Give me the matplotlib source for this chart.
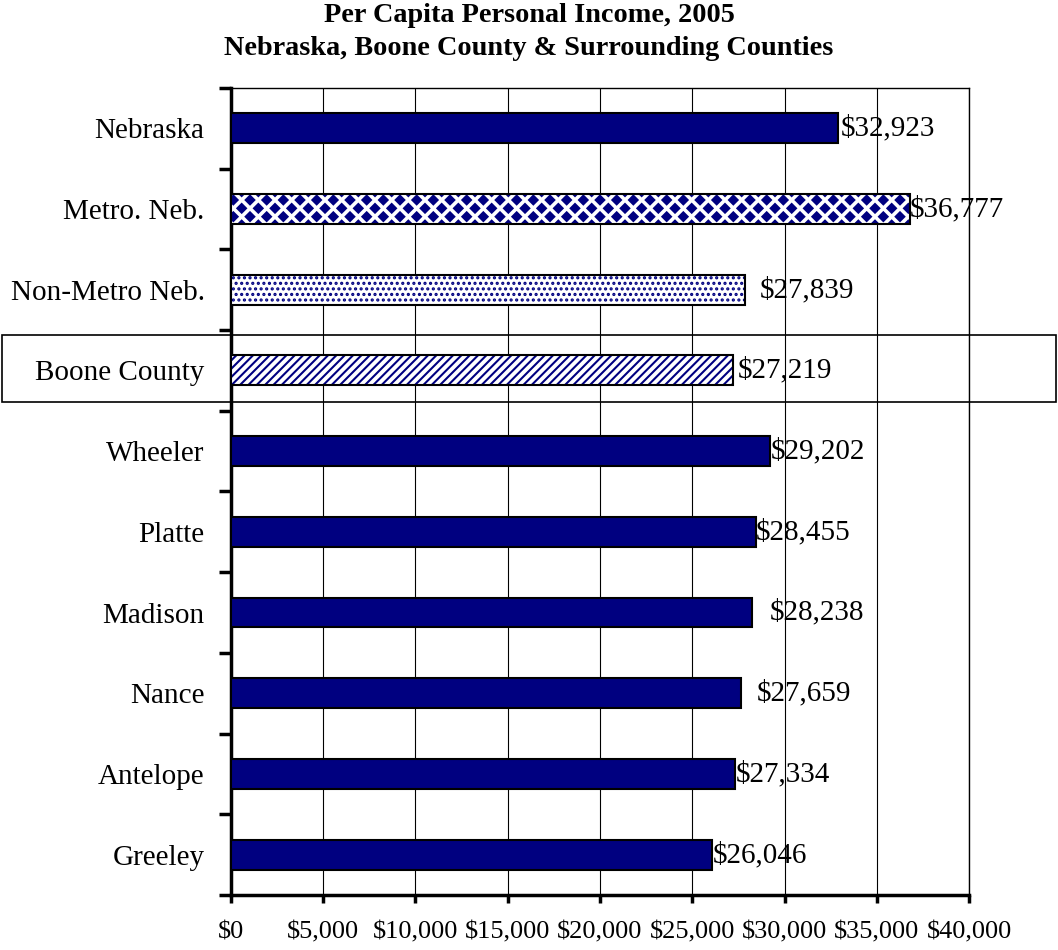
import matplotlib.pyplot as plt
from matplotlib import hatch as mhatch
from matplotlib.path import Path
from matplotlib.patches import Rectangle
import numpy as np
import warnings

warnings.filterwarnings('ignore')

plt.rcParams['font.family'] = ['Liberation Serif', 'DejaVu Serif']
plt.rcParams['hatch.linewidth'] = 1.5

areas = ['Nebraska', 'Metro. Neb.', 'Non-Metro Neb.', 'Boone County', 'Wheeler',
         'Platte', 'Madison', 'Nance', 'Antelope', 'Greeley']
income = [32923, 36777, 27839, 27219, 29202, 28455, 28238, 27659, 27334, 26046]
patterns = ['', 'd', '...', '////', '', '', '', '', '', '']
label_pad = [1.5, 0.5, 11, 3, 1, 0, 13, 11, 0.5, 1]
xticks = np.arange(0, 40001, 5000)

navy = '#000080'


# filled diamond checkerboard, like the old excel fill
class DiamondHatch(mhatch.HatchPatternBase):
    def __init__(self, hatch, density):
        n = int(hatch.count('d') * density)
        self.centers = []
        if n:
            p = 1.0 / n
            for r in range(2 * n + 1):
                if r % 2 == 0:
                    xs = np.arange(n + 1) * p
                else:
                    xs = (np.arange(n) + 0.5) * p
                for x in xs:
                    self.centers.append((x, r * p / 2))
        self.num_vertices = len(self.centers) * 5

    def set_vertices_and_codes(self, vertices, codes):
        hw, hh = 0.043, 0.043
        shape = np.array([[-hw, 0], [0, hh], [hw, 0], [0, -hh], [-hw, 0]])
        for k, c in enumerate(self.centers):
            vertices[5 * k:5 * k + 5] = shape + c
            codes[5 * k:5 * k + 5] = [Path.MOVETO, Path.LINETO, Path.LINETO,
                                      Path.LINETO, Path.CLOSEPOLY]


mhatch._hatch_types.append(DiamondHatch)

fig = plt.figure(figsize=(10.58, 9.5), dpi=100)
ax = fig.add_axes([0.2183, 0.0579, 0.6976, 0.8495])

y = np.arange(len(areas))
for i in range(len(areas)):
    if patterns[i]:
        ax.barh(y[i], income[i], height=0.37, color='white', edgecolor=navy,
                hatch=patterns[i], linewidth=0, zorder=3)
    else:
        ax.barh(y[i], income[i], height=0.37, color=navy, linewidth=0, zorder=3)
ax.barh(y, income, height=0.37, fill=False, edgecolor='black', linewidth=1.5, zorder=4)

for i, v in enumerate(income):
    ax.annotate('$' + format(v, ','), (v, y[i]), xytext=(label_pad[i], 0),
                textcoords='offset points', ha='left', va='center', fontsize=21)

ax.set_xlim(0, 40000)
ax.set_ylim(len(areas) - 0.5, -0.5)
ax.set_xticks(xticks)
ax.set_xticklabels(['$' + format(v, ',') for v in xticks], fontsize=19)
ax.set_yticks(y)
ax.set_yticklabels(areas, fontsize=21)
ax.set_yticks(np.arange(len(areas) + 1) - 0.5, minor=True)
ax.tick_params(axis='y', which='major', length=0, pad=19)
ax.tick_params(axis='y', which='minor', length=9, width=2.5, direction='out')
ax.tick_params(axis='x', length=6, width=2.5, direction='out', pad=13)
ax.grid(axis='x', color='black', linewidth=0.8, zorder=1)

ax.spines['left'].set_linewidth(2.5)
ax.spines['bottom'].set_linewidth(2.5)
ax.spines['top'].set_linewidth(1)
ax.spines['right'].set_linewidth(1)

fig.text(0.5, 0.984, 'Per Capita Personal Income, 2005', ha='center', va='center',
         fontsize=20.3, fontweight='bold')
fig.text(0.5, 0.949, 'Nebraska, Boone County & Surrounding Counties', ha='center', va='center',
         fontsize=20.3, fontweight='bold')

fig.patches.append(Rectangle((0.002, 0.5768), 0.996, 0.0706, transform=fig.transFigure,
                             fill=False, edgecolor='black', linewidth=1.2, zorder=0))

fig.savefig('out.png', dpi=100)
